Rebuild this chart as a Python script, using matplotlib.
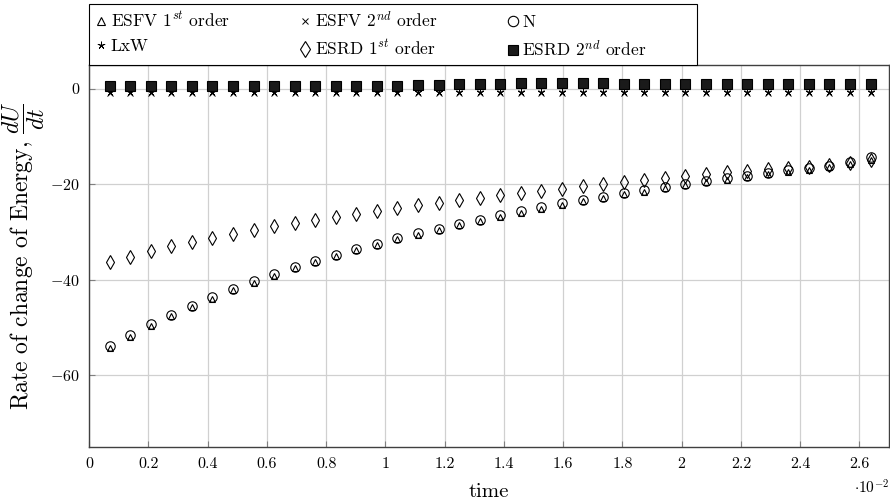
import matplotlib.pyplot as plt
from matplotlib.patches import Rectangle
from matplotlib.ticker import FuncFormatter, MultipleLocator

plt.rcParams['font.family'] = 'serif'
plt.rcParams['font.serif'] = ['cmr10']
plt.rcParams['mathtext.fontset'] = 'cm'
plt.rcParams['axes.formatter.use_mathtext'] = True

# time samples (s)
time = [0.000694, 0.001388, 0.002082, 0.002776, 0.00347, 0.004164, 0.004858,
        0.005552, 0.006246, 0.00694, 0.007634, 0.008328, 0.009022, 0.009716,
        0.01041, 0.011104, 0.011798, 0.012492, 0.013186, 0.01388, 0.014574,
        0.015268, 0.015962, 0.016656, 0.01735, 0.018044, 0.018738, 0.019432,
        0.020126, 0.02082, 0.021514, 0.022208, 0.022902, 0.023596, 0.02429,
        0.024984, 0.025678, 0.026372]

esfv1 = [-54.3, -51.9, -49.6, -47.6, -45.7, -43.9, -42.2, -40.6, -39.1, -37.6,
         -36.3, -35.0, -33.8, -32.6, -31.5, -30.5, -29.5, -28.6, -27.7, -26.8,
         -25.9, -25.1, -24.3, -23.5, -22.8, -22.1, -21.5, -20.8, -20.2, -19.6,
         -19.0, -18.5, -17.9, -17.4, -16.9, -16.4, -15.8, -15.0]
esfv2 = [-0.9] * 38
n_scheme = [-53.8, -51.5, -49.3, -47.3, -45.4, -43.6, -41.9, -40.3, -38.8, -37.4,
            -36.0, -34.8, -33.5, -32.4, -31.3, -30.2, -29.3, -28.3, -27.4, -26.5,
            -25.6, -24.8, -24.0, -23.3, -22.6, -21.9, -21.2, -20.6, -19.9, -19.3,
            -18.7, -18.2, -17.7, -17.1, -16.6, -16.1, -15.4, -14.2]
lxw = [-0.6] * 38
esrd1 = [-36.3, -35.1, -34.0, -33.0, -32.1, -31.2, -30.4, -29.6, -28.8, -28.1,
         -27.4, -26.8, -26.2, -25.5, -25.0, -24.4, -23.8, -23.3, -22.8, -22.3,
         -21.8, -21.3, -20.9, -20.4, -19.9, -19.5, -19.1, -18.7, -18.3, -17.9,
         -17.5, -17.2, -16.8, -16.5, -16.3, -16.0, -15.5, -15.0]
esrd2 = [0.5, 0.5, 0.5, 0.5, 0.5, 0.5, 0.5, 0.5, 0.5, 0.5, 0.5, 0.5, 0.5, 0.5,
         0.6, 0.7, 0.8, 0.9, 1.0, 1.1, 1.2, 1.2, 1.2, 1.2, 1.2, 1.1, 1.1, 1.0,
         1.0, 1.0, 1.0, 1.0, 1.0, 1.0, 1.0, 1.0, 1.0, 1.0]

fig = plt.figure(figsize=(8.9, 5.03), dpi=100)
ax = fig.add_axes([0.1, 0.111, 0.899, 0.76])

kw = dict(linestyle='none', markeredgecolor='black', markeredgewidth=0.8)
h_tri, = ax.plot(time, esfv1, marker='^', markersize=5, markerfacecolor='none',
                 label='ESFV $1^{st}$ order', **kw)
h_x, = ax.plot(time, esfv2, marker='x', markersize=4.5, label='ESFV $2^{nd}$ order',
               **dict(kw, markeredgewidth=0.7))
h_o, = ax.plot(time, n_scheme, marker='o', markersize=6.8, markerfacecolor='none',
               label='N', **kw)
h_star, = ax.plot(time, lxw, marker=(5, 2, 0), markersize=5,
                  label='LxW', **dict(kw, markeredgewidth=0.6))
h_d, = ax.plot(time, esrd1, marker='d', markersize=7, markerfacecolor='none',
               label='ESRD $1^{st}$ order', **kw)
h_sq, = ax.plot(time, esrd2, marker='s', markersize=7, markerfacecolor='#1a1a1a',
                label='ESRD $2^{nd}$ order', **kw)

ax.set_xlim(0, 0.027)
ax.set_ylim(-75, 5)
ax.xaxis.set_major_locator(MultipleLocator(0.002))
ax.yaxis.set_major_locator(MultipleLocator(20))
ax.xaxis.set_major_formatter(FuncFormatter(lambda v, p: '%g' % round(v * 100, 2)))
ax.yaxis.set_major_formatter(FuncFormatter(lambda v, p: '$%g$' % v if v < 0 else '%g' % v))
ax.grid(True, color='#d0d0d0', linewidth=0.9)
ax.set_axisbelow(True)
ax.tick_params(direction='in', length=4, color='#808080', labelsize=11.5, pad=7)
for s in ax.spines.values():
    s.set_color('#404040')
    s.set_linewidth(1.0)

ax.set_xlabel('time', fontsize=15, labelpad=9)
ax.set_ylabel(r'Rate of change of Energy, $\dfrac{dU}{dt}$', fontsize=17, labelpad=2)
fig.text(0.999, 0.012, r'$\cdot10^{-2}$', ha='right', va='bottom', fontsize=11)

# legend box drawn separately so it can be wider than its entries
box = Rectangle((0.0, 1.0), 0.76, 0.158, transform=ax.transAxes, clip_on=False,
                facecolor='white', edgecolor='black', linewidth=0.8, zorder=5)
ax.add_patch(box)

handles = [h_tri, h_star, h_x, h_d, h_o, h_sq]
leg = ax.legend(handles, [h.get_label() for h in handles],
                ncol=3, loc='lower left', bbox_to_anchor=(0.0, 1.0), borderaxespad=0,
                frameon=False, fontsize=12.5,
                handlelength=0.7, handletextpad=0.2, columnspacing=4.0,
                borderpad=0.35, labelspacing=0.5, markerscale=1.1)
leg.set_zorder(6)

fig.savefig('out.png', dpi=100)
